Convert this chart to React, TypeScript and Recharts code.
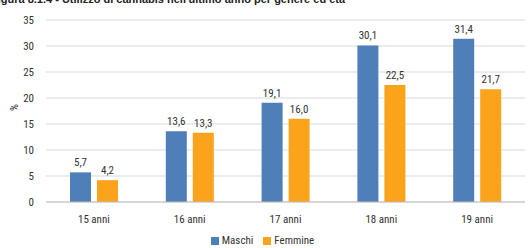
import React from 'react';
import { BarChart, Bar, XAxis, YAxis, CartesianGrid, Legend, LabelList } from 'recharts';

const categories = ['15 anni', '16 anni', '17 anni', '18 anni', '19 anni'];
const maschi = [5.7, 13.6, 19.1, 30.1, 31.4];
const femmine = [4.2, 13.3, 16.0, 22.5, 21.7];
const yTicks = [0, 5, 10, 15, 20, 25, 30, 35];
const series = [
  { key: 'Maschi', color: '#4f7fb8' },
  { key: 'Femmine', color: '#fba31b' },
];

const data = categories.map((name, i) => ({ name, Maschi: maschi[i], Femmine: femmine[i] }));

const FONT = '"Liberation Sans Narrow", "Roboto Condensed", "Liberation Sans", Arial, sans-serif';
const fmt = (v: any) => Number(v).toFixed(1).replace('.', ',');

const LegendBox = () => (
  <div
    style={{
      position: 'relative',
      top: 6,
      height: 14,
      display: 'flex',
      justifyContent: 'center',
      gap: 10,
      fontSize: 11,
      lineHeight: '14px',
      fontFamily: FONT,
      color: '#333',
    }}
  >
    {series.map((s) => (
      <span key={s.key} style={{ display: 'flex', alignItems: 'center' }}>
        <span style={{ display: 'inline-block', width: 8, height: 8, background: s.color, marginRight: 3 }} />
        {s.key}
      </span>
    ))}
  </div>
);

const App = () => {
  return (
    <div style={{ position: 'absolute', left: 0, top: 0, width: 529, height: 248, background: '#fff', fontFamily: FONT, overflow: 'hidden' }}>
      <div
        style={{
          position: 'absolute',
          left: -9,
          top: -7,
          fontFamily: '"Liberation Sans", Arial, sans-serif',
          fontWeight: 'bold',
          fontSize: 11,
          color: '#222',
          whiteSpace: 'nowrap',
        }}
      >
        Figura 8.1.4 - Utilizzo di cannabis nell'ultimo anno per genere ed età
      </div>
      <BarChart
        width={529}
        height={248}
        data={data}
        margin={{ top: 20, right: 4, bottom: 0, left: 0 }}
        barCategoryGap={24}
        barGap={6}
      >
        <CartesianGrid vertical={false} stroke="#d9d9d9" />
        <XAxis
          dataKey="name"
          axisLine={{ stroke: '#bfbfbf' }}
          tickLine={false}
          tick={{ fill: '#333', fontSize: 11, fontFamily: FONT }}
          tickMargin={7}
          height={26}
        />
        <YAxis
          domain={[0, 35]}
          ticks={yTicks}
          width={46}
          axisLine={false}
          tickLine={false}
          tick={{ fill: '#333', fontSize: 11, fontFamily: FONT }}
          tickMargin={6}
          label={{ value: '%', angle: -90, position: 'insideLeft', offset: 14, fill: '#333', fontSize: 11, fontFamily: FONT }}
        />
        <Legend
          verticalAlign="bottom"
          align="center"
          height={20}
          wrapperStyle={{ height: 20 }}
          content={<LegendBox />}
        />
        {series.map((s) => (
          <Bar key={s.key} dataKey={s.key} fill={s.color} barSize={21} isAnimationActive={false}>
            <LabelList dataKey={s.key} position="top" offset={6} formatter={fmt} style={{ fill: '#333', fontSize: 11, fontFamily: FONT }} />
          </Bar>
        ))}
      </BarChart>
    </div>
  );
};

export default App;
